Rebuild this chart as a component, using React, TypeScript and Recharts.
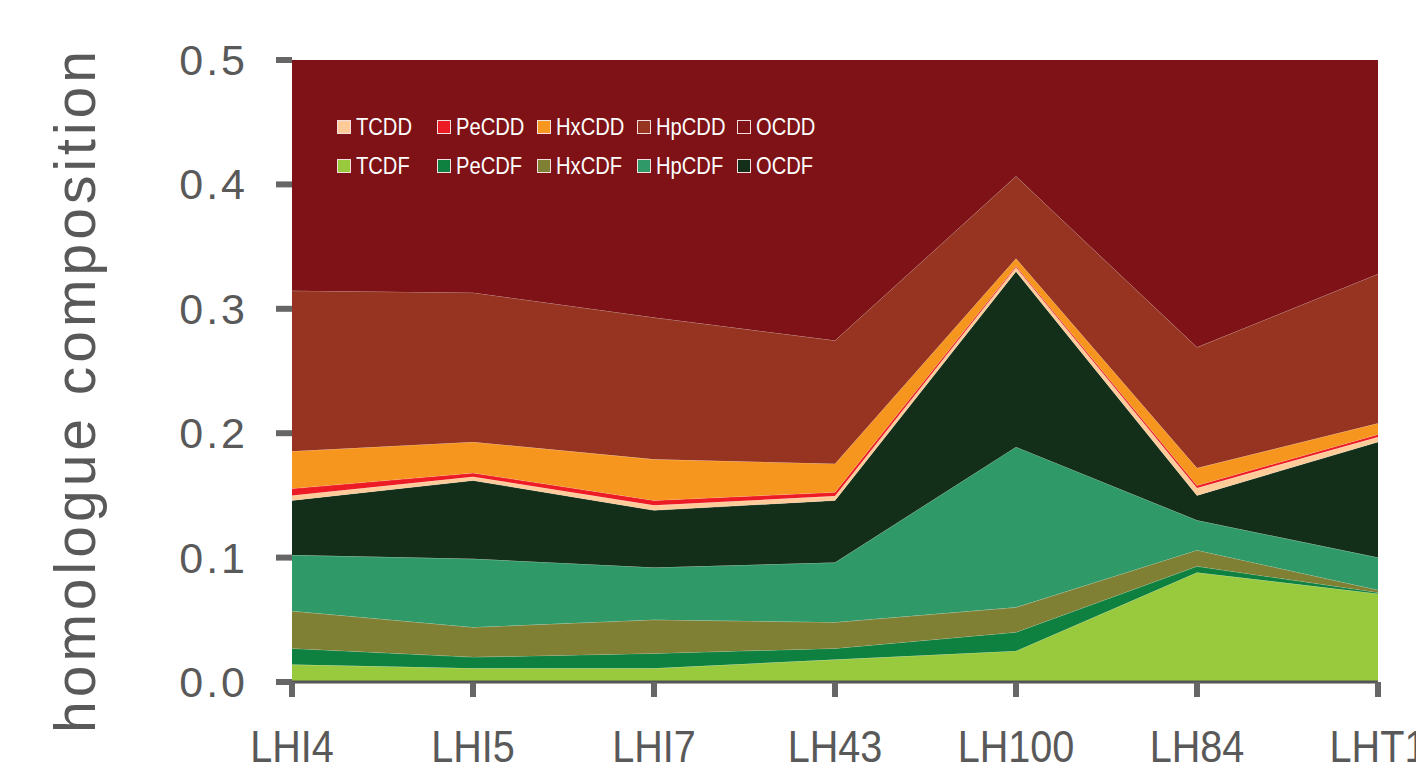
import React from 'react';
import { AreaChart, Area, XAxis, YAxis } from 'recharts';

const categories = ['LHI4', 'LHI5', 'LHI7', 'LH43', 'LH100', 'LH84', 'LHT1'];
const TCDF = [0.014, 0.011, 0.011, 0.018, 0.025, 0.088, 0.071];
const PeCDF = [0.013, 0.009, 0.012, 0.009, 0.015, 0.005, 0.001];
const HxCDF = [0.030, 0.024, 0.027, 0.021, 0.020, 0.013, 0.002];
const HpCDF = [0.045, 0.055, 0.042, 0.048, 0.129, 0.024, 0.026];
const OCDF = [0.044, 0.063, 0.046, 0.050, 0.141, 0.020, 0.093];
const TCDD = [0.004, 0.003, 0.004, 0.0035, 0.0035, 0.006, 0.004];
const PeCDD = [0.0055, 0.003, 0.004, 0.003, 0.001, 0.002, 0.002];
const HxCDD = [0.030, 0.025, 0.033, 0.023, 0.006, 0.014, 0.009];
const HpCDD = [0.129, 0.120, 0.114, 0.099, 0.066, 0.097, 0.120];
const OCDD = [0.686, 0.687, 0.707, 0.725, 0.594, 0.730, 0.672];
const yTicks = [0, 0.1, 0.2, 0.3, 0.4, 0.5];

const seriesValues: Record<string, number[]> = { TCDF, PeCDF, HxCDF, HpCDF, OCDF, TCDD, PeCDD, HxCDD, HpCDD, OCDD };
const stackOrder = ['TCDF', 'PeCDF', 'HxCDF', 'HpCDF', 'OCDF', 'TCDD', 'PeCDD', 'HxCDD', 'HpCDD', 'OCDD'];
const legendRows = [
  ['TCDD', 'PeCDD', 'HxCDD', 'HpCDD', 'OCDD'],
  ['TCDF', 'PeCDF', 'HxCDF', 'HpCDF', 'OCDF'],
];
const colors: Record<string, string> = {
  TCDF: '#99C93C',
  PeCDF: '#0E8140',
  HxCDF: '#808034',
  HpCDF: '#2F9A68',
  OCDF: '#142F19',
  TCDD: '#FFCB99',
  PeCDD: '#ED1C24',
  HxCDD: '#F7961E',
  HpCDD: '#963421',
  OCDD: '#7E1216',
};

const data = categories.map((c, i) => {
  const row: Record<string, number | string> = { name: c };
  stackOrder.forEach((k) => { row[k] = seriesValues[k][i]; });
  return row;
});

const SANS = '"Liberation Sans", Arial, sans-serif';

const XTick = (props: any) => {
  const { x, y, payload } = props;
  return (
    <text
      transform={`translate(${x} ${y + 63}) scale(0.88 1)`}
      textAnchor="middle"
      fontFamily={SANS}
      fontSize={45}
      fill="#595959"
    >
      {payload.value}
    </text>
  );
};

const YTick = (props: any) => {
  const { x, y, payload } = props;
  return (
    <text x={x} y={y + 15} textAnchor="end" fontFamily={SANS} fontSize={43} fill="#595959" letterSpacing={3}>
      {Number(payload.value).toFixed(1)}
    </text>
  );
};

const LegendOverlay = () => (
  <div
    style={{
      position: 'absolute',
      left: 337,
      top: 107,
      fontFamily: SANS,
      fontSize: 24,
      color: '#ffffff',
      pointerEvents: 'none',
    }}
  >
    {legendRows.map((row, ri) => (
      <div key={ri} style={{ display: 'flex', height: 39, alignItems: 'center' }}>
        {row.map((k) => (
          <div key={k} style={{ display: 'flex', alignItems: 'center', width: 100, whiteSpace: 'nowrap' }}>
            <span
              style={{
                display: 'inline-block',
                width: 12,
                height: 12,
                background: colors[k],
                border: '1.5px solid #f2dede',
                marginRight: 5,
                flex: 'none',
              }}
            />
            <span style={{ display: 'inline-block', transform: 'scaleX(0.84)', transformOrigin: 'left center' }}>{k}</span>
          </div>
        ))}
      </div>
    ))}
  </div>
);

export default function App() {
  return (
    <div style={{ position: 'fixed', left: 0, top: 0, width: 1416, height: 771, background: '#fff' }}>
      <AreaChart
        width={1416}
        height={771}
        data={data}
        margin={{ top: 60, right: 38, bottom: 0, left: 0 }}
      >
        <XAxis
          dataKey="name"
          height={89}
          tick={<XTick />}
          tickSize={15}
          tickLine={{ stroke: '#666', strokeWidth: 6 }}
          axisLine={{ stroke: '#555', strokeWidth: 3 }}
          interval={0}
        />
        <YAxis
          width={292}
          domain={[0, 0.5]}
          ticks={yTicks}
          allowDataOverflow
          tick={<YTick />}
          tickSize={16}
          tickMargin={28}
          tickLine={{ stroke: '#666', strokeWidth: 6 }}
          axisLine={false}
          label={() => {
            const cx = 75;
            const cy = 390;
            return (
              <text
                x={cx}
                y={cy}
                transform={`rotate(-90 ${cx} ${cy})`}
                textAnchor="middle"
                dominantBaseline="central"
                fontFamily={SANS}
                fontSize={57}
                letterSpacing={4}
                fill="#595959"
              >
                homologue composition
              </text>
            );
          }}
        />
        {stackOrder.map((k) => (
          <Area
            key={k}
            type="linear"
            dataKey={k}
            stackId="1"
            fill={colors[k]}
            fillOpacity={1}
            stroke="#ffffff"
            strokeOpacity={0.3}
            strokeWidth={1}
            isAnimationActive={false}
            dot={false}
            activeDot={false}
          />
        ))}
      </AreaChart>
      <LegendOverlay />
    </div>
  );
}
